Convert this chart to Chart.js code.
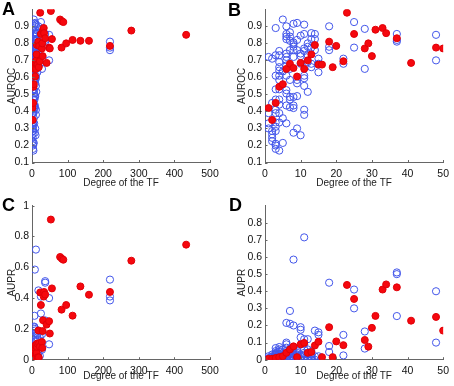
<!DOCTYPE html>
<html>
<head>
<meta charset="utf-8">
<script src="https://cdn.jsdelivr.net/npm/chart.js@4.4.1/dist/chart.umd.min.js"></script>
<style>
body { margin: 0; background: #fff; }
#wrap { position: relative; width: 454px; height: 386px; overflow: hidden; }
canvas { position: absolute; }
.tag { position: absolute; font: bold 18px "Liberation Sans", Arial, sans-serif; line-height: 18px; color: #000; }
</style>
</head>
<body>
<div id="wrap">
  <canvas id="chartA" width="227" height="193" style="left:0;top:0"></canvas>
  <canvas id="chartB" width="227" height="193" style="left:227px;top:0"></canvas>
  <canvas id="chartC" width="227" height="193" style="left:0;top:193px"></canvas>
  <canvas id="chartD" width="227" height="193" style="left:227px;top:193px"></canvas>
  <div class="tag" style="left:2px;top:0">A</div>
  <div class="tag" style="left:228px;top:1px">B</div>
  <div class="tag" style="left:2px;top:196px">C</div>
  <div class="tag" style="left:229px;top:196px">D</div>
</div>
<script>
// TF senza interazione nota (cerchi blu): grado, AUROC, AUPR
const blueDegree = [
  1, 1, 1, 1,
  2, 2, 2, 2, 2, 2,
  3, 3, 3, 3, 3, 3, 3, 3, 3, 3, 3, 3, 3,
  4, 4, 4, 4, 4, 4, 4, 4, 4, 4, 4, 4, 4,
  5, 5, 5, 5,
  6, 6, 6, 6, 6, 6, 6, 6, 6, 6, 6, 6, 6,
  7, 7, 7, 7, 7, 7, 7, 7, 7,
  8, 8, 8, 8, 8, 8, 8, 8, 8, 8,
  9, 9, 9, 9, 9, 9, 9,
  10, 10, 10, 10, 10,
  11, 11, 11, 11, 11, 11, 11, 11, 11,
  12, 12, 12, 12, 12,
  13, 13, 13, 13, 13,
  14, 14, 14,
  15, 15, 15,
  18, 18, 18,
  22, 22,
  25, 25,
  28, 28,
  37, 37, 37,
  48, 48,
  219, 219, 219
];
const blueAuroc = [
  0.72, 0.39, 0.33, 0.30,
  0.71, 0.45, 0.285, 0.265, 0.245, 0.225,
  0.89, 0.73, 0.61, 0.53, 0.47, 0.41, 0.39, 0.335, 0.31, 0.285, 0.21, 0.20, 0.18,
  0.755, 0.73, 0.69, 0.66, 0.64, 0.61, 0.585, 0.53, 0.47, 0.44, 0.39, 0.335, 0.17,
  0.94, 0.635, 0.36, 0.215,
  0.90, 0.855, 0.84, 0.825, 0.74, 0.72, 0.70, 0.67, 0.61, 0.525, 0.505, 0.435, 0.33,
  0.865, 0.84, 0.815, 0.76, 0.65, 0.585, 0.485, 0.47, 0.425,
  0.915, 0.805, 0.795, 0.78, 0.76, 0.72, 0.485, 0.435, 0.42, 0.275,
  0.92, 0.82, 0.76, 0.585, 0.565, 0.49, 0.30,
  0.845, 0.74, 0.725, 0.68, 0.26,
  0.91, 0.855, 0.77, 0.755, 0.61, 0.595, 0.55, 0.41, 0.38,
  0.80, 0.78, 0.73, 0.69, 0.515,
  0.86, 0.825, 0.775, 0.68, 0.66,
  0.855, 0.825, 0.76,
  0.71, 0.68, 0.63,
  0.90, 0.78, 0.76,
  0.71, 0.68,
  0.925, 0.775,
  0.885, 0.65,
  0.855, 0.82, 0.81,
  0.85, 0.70,
  0.81, 0.775, 0.76
];
const blueAupr = [
  0.005, 0.01, 0.0, 0.02,
  0.0, 0.01, 0.02, 0.005, 0.03, 0.015,
  0.068, 0.05, 0.04, 0.0, 0.01, 0.02, 0.03, 0.005, 0.015, 0.025, 0.0, 0.01, 0.035,
  0.074, 0.06, 0.045, 0.03, 0.02, 0.01, 0.0, 0.005, 0.015, 0.025, 0.035, 0.0, 0.05,
  0.06, 0.02, 0.01, 0.0,
  0.215, 0.1, 0.09, 0.07, 0.05, 0.04, 0.03, 0.02, 0.01, 0.0, 0.005, 0.015, 0.025,
  0.285, 0.21, 0.06, 0.04, 0.02, 0.01, 0.0, 0.03, 0.05,
  0.585, 0.20, 0.07, 0.05, 0.03, 0.02, 0.01, 0.0, 0.04, 0.015,
  0.06, 0.04, 0.02, 0.01, 0.0, 0.03, 0.05,
  0.19, 0.175, 0.13, 0.02, 0.0,
  0.715, 0.12, 0.09, 0.06, 0.04, 0.02, 0.01, 0.0, 0.03,
  0.12, 0.06, 0.03, 0.01, 0.0,
  0.05, 0.03, 0.02, 0.01, 0.0,
  0.17, 0.02, 0.0,
  0.16, 0.145, 0.02,
  0.45, 0.08, 0.045,
  0.145, 0.025,
  0.41, 0.30,
  0.165, 0.065,
  0.51, 0.50, 0.255,
  0.40, 0.10,
  0.52, 0.41, 0.385
];

// TF con interazione nota (punti rossi)
const redDegree = [1, 2, 3, 4, 5, 6, 7, 8, 9, 10, 11, 12, 13, 14, 15, 16, 18, 19, 20, 22,
  23, 25, 28, 29, 30, 31, 33, 34, 37, 41, 48, 50, 53, 56, 79, 83, 84, 88, 96, 114,
  136, 160, 219, 279, 433];
const redAuroc = [0.42, 0.35, 0.45, 0.545, 0.56, 0.65, 0.68, 0.655, 0.605, 0.685, 0.65, 0.70, 0.735, 0.79, 0.675, 0.675, 0.81, 0.66, 0.785, 0.695,
  0.98, 0.855, 0.77, 0.80, 0.725, 0.88, 0.89, 0.86, 0.83, 0.685, 0.775, 0.77, 0.99, 0.825, 0.94, 0.775, 0.93, 0.925, 0.80, 0.82,
  0.815, 0.815, 0.785, 0.875, 0.85];
const redAupr = [0.005, 0.005, 0.01, 0.015, 0.02, 0.04, 0.06, 0.078, 0.015, 0.09, 0.098, 0.04, 0.045, 0.083, 0.105, 0.015, 0.19, 0.015, 0.107, 0.085,
  0.437, 0.355, 0.115, 0.076, 0.186, 0.256, 0.41, 0.44, 0.423, 0.228, 0.25, 0.17, 0.91, 0.463, 0.667, 0.325, 0.656, 0.649, 0.355, 0.286,
  0.476, 0.422, 0.44, 0.643, 0.747];

// Tick
const degreeTicksAll = [0, 100, 200, 300, 400, 500];
const degreeTicksZoom = [0, 10, 20, 30, 40, 50];
const aurocTicks = [0.1, 0.2, 0.3, 0.4, 0.5, 0.6, 0.7, 0.8, 0.9];
const auprTicksAll = [0, 0.2, 0.4, 0.6, 0.8, 1];
const auprTicksZoom = [0, 0.1, 0.2, 0.3, 0.4, 0.5, 0.6, 0.7, 0.8];

const FONT = '"Liberation Sans", Arial, sans-serif';

function toPoints(xs, ys) {
  return xs.map((x, i) => ({ x: x, y: ys[i] }));
}

// Tacche interne stile MATLAB
const inwardTicks = {
  id: 'inwardTicks',
  afterDraw(chart) {
    const ctx = chart.ctx, sx = chart.scales.x, sy = chart.scales.y;
    ctx.save();
    ctx.strokeStyle = '#666';
    ctx.lineWidth = 1;
    ctx.beginPath();
    sx.ticks.forEach(t => {
      const px = Math.round(sx.getPixelForValue(t.value)) + 0.5;
      ctx.moveTo(px, sy.bottom);
      ctx.lineTo(px, sy.bottom - 2.5);
    });
    sy.ticks.forEach(t => {
      const py = Math.round(sy.getPixelForValue(t.value)) + 0.5;
      ctx.moveTo(sx.left, py);
      ctx.lineTo(sx.left + 2.5, py);
    });
    ctx.stroke();
    ctx.restore();
  }
};

function drawPanel(id, redY, blueY, yTitle, xMax, xTicks, yMin, yMax, yTicks, area) {
  new Chart(document.getElementById(id), {
    type: 'scatter',
    data: {
      datasets: [
        {
          data: toPoints(redDegree, redY),
          backgroundColor: '#f5080e',
          borderColor: '#e00008',
          borderWidth: 1,
          pointRadius: 3.5
        },
        {
          data: toPoints(blueDegree, blueY),
          backgroundColor: 'rgba(0,0,0,0)',
          borderColor: '#4356ea',
          borderWidth: 1,
          pointRadius: 3.6
        }
      ]
    },
    options: {
      responsive: false,
      animation: false,
      events: [],
      layout: { padding: { left: 0, top: area.top, right: 227 - area.right, bottom: 0 } },
      plugins: { legend: { display: false }, tooltip: { enabled: false } },
      scales: {
        x: {
          type: 'linear',
          min: 0,
          max: xMax,
          afterBuildTicks: a => { a.ticks = xTicks.map(v => ({ value: v })); },
          afterFit: s => { s.height = 193 - area.bottom; },
          grid: { display: false, drawTicks: false },
          border: { color: '#666', width: 1 },
          ticks: { padding: 5, color: '#111', font: { family: FONT, size: 10.5 }, callback: v => String(v), maxRotation: 0 },
          title: { display: true, text: 'Degree of the TF', color: '#222', font: { family: FONT, size: 10 }, padding: { top: 0, bottom: 4 } }
        },
        y: {
          type: 'linear',
          min: yMin,
          max: yMax,
          afterBuildTicks: a => { a.ticks = yTicks.map(v => ({ value: v })); },
          afterFit: s => { s.width = area.left; },
          grid: { display: false, drawTicks: false },
          border: { color: '#666', width: 1 },
          ticks: { padding: 3, color: '#111', font: { family: FONT, size: 10.5 }, callback: v => String(v) },
          title: { display: true, text: yTitle, color: '#222', font: { family: FONT, size: 10 }, padding: { top: area.titlePad, bottom: 0 } }
        }
      }
    },
    plugins: [inwardTicks]
  });
}

drawPanel('chartA', redAuroc, blueAuroc, 'AUROC', 500, degreeTicksAll, 0.1, 1.0, aurocTicks,
  { left: 32, right: 210, top: 8.5, bottom: 162.5, titlePad: 6 });
drawPanel('chartB', redAuroc, blueAuroc, 'AUROC', 50, degreeTicksZoom, 0.1, 1.0, aurocTicks,
  { left: 38, right: 217.3, top: 8.5, bottom: 162.5, titlePad: 9 });
drawPanel('chartC', redAupr, blueAupr, 'AUPR', 500, degreeTicksAll, 0, 1, auprTicksAll,
  { left: 32, right: 210, top: 12.7, bottom: 166.7, titlePad: 6 });
drawPanel('chartD', redAupr, blueAupr, 'AUPR', 50, degreeTicksZoom, 0, 0.9, auprTicksZoom,
  { left: 38, right: 217.3, top: 12.7, bottom: 166.7, titlePad: 9 });
</script>
</body>
</html>
